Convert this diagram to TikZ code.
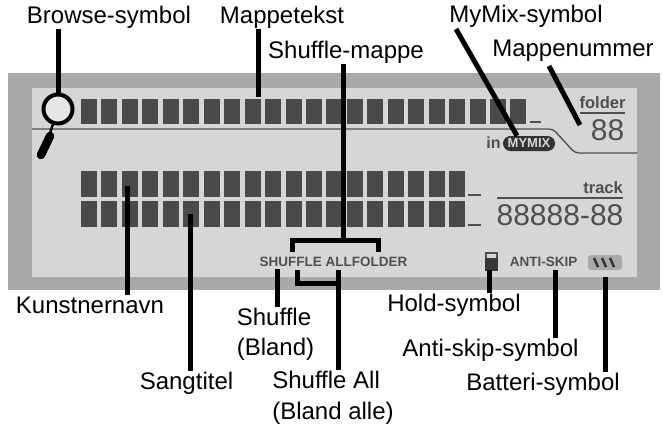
\documentclass[tikz,border=0pt]{standalone}
\usepackage{fontspec}
\setmainfont{Liberation Sans}
\usetikzlibrary{shapes}
\definecolor{frm}{HTML}{A9A9A9}
\definecolor{lcd}{HTML}{D6D6D6}
\definecolor{blk}{HTML}{4A4A4A}
\definecolor{prn}{HTML}{4F4F4F}
\tikzstyle{lbl}=[inner sep=1pt,font=\fontsize{24}{30.5}\selectfont,align=left]
\tikzstyle{ptr}=[line width=5pt,black]
\tikzstyle{blkcell}=[fill=blk,draw=none,minimum width=16pt,inner sep=0pt]
\tikzstyle{lcdtxt}=[inner sep=0pt,text=prn,font=\fontsize{13.5}{14}\selectfont\bfseries]
\tikzstyle{lcdsmall}=[inner sep=0pt,text=prn,font=\fontsize{16.5}{17}\selectfont\bfseries]
\tikzstyle{digit}=[inner sep=0pt,text=prn,font=\fontsize{30}{30}\selectfont]
\tikzstyle{rule}=[line width=1.3pt,prn]

\begin{document}
\begin{tikzpicture}[x=1pt,y=-1pt]
\useasboundingbox (0,0) rectangle (663,424);
% panel
\fill[frm] (8,73) rectangle (660,290);
\fill[lcd] (32,88) rectangle (637,277);
% character cells
\foreach \i in {0,...,21} \node[blkcell,minimum height=25pt] (top\i) at (89+20.45*\i,111.5) {};
\foreach \i in {0,...,18} {
\node[blkcell,minimum height=26pt] (art\i) at (89+20.45*\i,184) {};
\node[blkcell,minimum height=26pt] (sng\i) at (89+20.45*\i,214) {};
}
\draw[rule] (530,122) -- (541,122); \draw[rule] (468,195) -- (481,195); \draw[rule] (468,225) -- (481,225);
% divider
\draw[rule,rounded corners=4pt] (32,129) -- (553,129) -- (575,153) -- (637,153);
% browse symbol
\node[circle,draw=black,line width=4pt,fill=lcd!60!white,minimum size=29pt,inner sep=0pt] (lens) at (58,109) {};
\draw[line width=2.5pt,black] (lens) -- (49,136);
\draw[line width=8.5pt,line cap=round,black] (50,136) -- (41,155);
% right hand displays
\node[lcdsmall] (folder) at (602.5,103) {folder};
\draw[rule] (580,113) -- (625,113);
\node[digit] (foldernum) at (607.5,130) {88};
\node[lcdsmall,anchor=east] (track) at (623,188) {track};
\draw[rule] (497,198) -- (623,198);
\node[digit] (tracknum) at (560,215.5) {88888-88};
\node[lcdsmall,font=\fontsize{16}{17}\selectfont\bfseries] (in) at (493.5,143) {in};
\node[rounded rectangle,fill=black!80,text=lcd,minimum width=52pt,minimum height=15pt,inner sep=0pt,font=\fontsize{13}{13}\selectfont\bfseries] (mymix) at (529,143.5) {MYMIX};
% bottom row
\node[lcdtxt] (shuffletxt) at (333.5,262) {SHUFFLE ALLFOLDER};
\node[lcdtxt] (antiskip) at (543.5,262) {ANTI-SKIP};
\node[fill=prn!70!black,minimum width=13pt,minimum height=13pt,inner sep=0pt] (hold) at (491.5,264) {};
\draw[line width=1.5pt,prn] (486,258) -- (486,253) -- (497,253) -- (497,258);
\node[rounded corners=3pt,fill=frm,minimum width=34pt,minimum height=15pt,inner sep=0pt] (battery) at (605,262.5) {};
\foreach \i in {0,1,2} \draw[line width=2.5pt,black!80] (594+8*\i,258) -- (598+8*\i,267);
% labels
\node[lbl] (browse) at (109,17) {Browse-symbol};
\node[lbl] (mappetekst) at (282,17) {Mappetekst};
\node[lbl] (mymixlbl) at (526,16) {MyMix-symbol};
\node[lbl] (mappenr) at (573,51) {Mappenummer};
\node[lbl] (shufmappe) at (346,52) {Shuffle-mappe};
\node[lbl] (kunst) at (90,305) {Kunstnernavn};
\node[lbl] (shuffle) at (275.5,334.5) {Shuffle\\(Bland)};
\node[lbl] (sang) at (186.5,383) {Sangtitel};
\node[lbl] (shufall) at (333,398) {Shuffle All\\(Bland alle)};
\node[lbl] (holdlbl) at (454,305) {Hold-symbol};
\node[lbl] (antilbl) at (490.5,350) {Anti-skip-symbol};
\node[lbl] (battlbl) at (543,384) {Batteri-symbol};
% connectors
\coordinate (tekstend) at (258.5,97); \coordinate (mixtop) at (456,29); \coordinate (nrtop) at (549,66); \coordinate (nrend) at (580,125);
\coordinate (kunstend) at (127,186); \coordinate (sangend) at (190,214);
\coordinate (mapjoin) at (343,240); \coordinate (brL) at (292,252); \coordinate (brR) at (378,252);
\coordinate (allL) at (297,270); \coordinate (allR) at (338,270); \coordinate (allbar) at (338,283);
\coordinate (shufend) at (277,269); \coordinate (holdend) at (489.5,270); \coordinate (antiend) at (555,270); \coordinate (battend) at (605,277);
\draw[ptr] (lens.north) -- (lens.north |- browse.south);
\draw[ptr] (tekstend) -- (tekstend |- mappetekst.south);
\draw[ptr] (mixtop) -- ([xshift=-12pt]mymix.north);
\draw[ptr] (nrtop) -- (nrend);
\draw[ptr] (mapjoin) -- (mapjoin |- shufmappe.south);
\draw[ptr,miter limit=4] (brL) -- (brL |- mapjoin) -- (brR |- mapjoin) -- (brR);
\draw[ptr] (kunstend) -- (kunstend |- kunst.north);
\draw[ptr] (sangend) -- (sangend |- sang.north);
\draw[ptr] (shufend) -- (shufend |- shuffle.north);
\draw[ptr] (allL) -- (allL |- allbar) -- (allbar);
\draw[ptr] (allR) -- (allR |- shufall.north);
\draw[ptr] (holdend) -- (holdend |- holdlbl.north);
\draw[ptr] (antiend) -- (antiend |- antilbl.north);
\draw[ptr] (battend) -- (battend |- battlbl.north);
\end{tikzpicture}
\end{document}
